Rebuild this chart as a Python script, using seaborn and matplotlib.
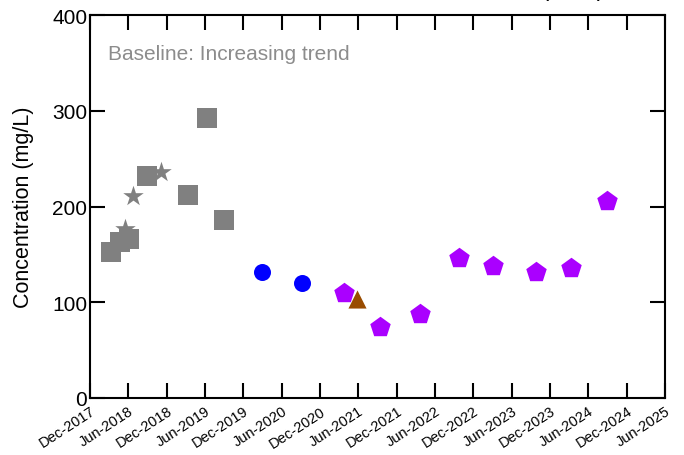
import matplotlib
matplotlib.use("Agg")
import matplotlib.pyplot as plt
import pandas as pd
import seaborn as sns

sns.set_theme(style="white")
plt.rcParams["font.family"] = ["Liberation Sans", "DejaVu Sans"]

# Sampling dates and concentrations, grouped by result category
baseline_sq_dates = ["2018-03-12", "2018-04-21", "2018-06-05", "2018-08-31",
                     "2019-03-15", "2019-06-09", "2019-09-01"]
baseline_sq_vals = [152, 163, 166, 232, 212, 292, 186]

baseline_star_dates = ["2018-05-17", "2018-06-25", "2018-11-03"]
baseline_star_vals = [176, 211, 236]

circle_dates = ["2020-03-01", "2020-09-06"]
circle_vals = [132, 120]

pent_dates = ["2021-03-24", "2021-09-13", "2022-03-22", "2022-09-25",
              "2023-03-06", "2023-09-26", "2024-03-10", "2024-08-28"]
pent_vals = [110, 74, 88, 146, 138, 132, 136, 206]

tri_dates = ["2021-05-25"]
tri_vals = [103]

x_ticks = pd.date_range("2017-12-01", "2025-06-01", freq="6MS")
x_tick_labels = [d.strftime("%b-%Y") for d in x_ticks]
y_ticks = [0, 100, 200, 300, 400]

groups = [
    ("baseline_sq", baseline_sq_dates, baseline_sq_vals),
    ("baseline_star", baseline_star_dates, baseline_star_vals),
    ("circle", circle_dates, circle_vals),
    ("pent", pent_dates, pent_vals),
    ("tri", tri_dates, tri_vals),
]
frames = []
for name, d, v in groups:
    frames.append(pd.DataFrame({"date": pd.to_datetime(d), "value": v, "group": name}))
df = pd.concat(frames, ignore_index=True)

palette = {"baseline_sq": "#808080", "baseline_star": "#808080",
           "circle": "#0000FF", "pent": "#AA00FF", "tri": "#994C00"}
markers = {"baseline_sq": "s", "baseline_star": "*", "circle": "o",
           "pent": "p", "tri": "^"}
sizes = {"baseline_sq": 190, "baseline_star": 240, "circle": 150,
         "pent": 240, "tri": 170}

fig = plt.figure(figsize=(6.84, 4.56), dpi=100)
ax = fig.add_axes([90 / 684, 1 - 399 / 456, 575 / 684, 383 / 456])

for name, _, _ in groups:
    sub = df[df["group"] == name]
    sns.scatterplot(data=sub, x="date", y="value", ax=ax, color=palette[name],
                    marker=markers[name], s=sizes[name], linewidth=0,
                    legend=False, zorder=3)

ax.set_xlim(x_ticks[0], x_ticks[-1])
ax.set_ylim(0, 400)
ax.set_xticks(x_ticks)
ax.set_xticklabels(x_tick_labels, rotation=33, ha="right",
                   rotation_mode="anchor", fontsize=10.5)
ax.set_yticks(y_ticks)
ax.tick_params(axis="y", labelsize=15, pad=2)
ax.tick_params(direction="in", length=11, width=1.5, top=True, right=True,
               bottom=True, left=True, color="black", labelcolor="black")
ax.tick_params(axis="x", pad=4)
ax.set_xlabel("")
ax.set_ylabel("Concentration (mg/L)", fontsize=15.5, labelpad=13, color="black")
for sp in ax.spines.values():
    sp.set_color("black")
    sp.set_linewidth(1.5)

ax.text(0.032, 0.9, "Baseline: Increasing trend", transform=ax.transAxes,
        fontsize=15, color="#8c8c8c", va="center", ha="left")

fig.text(605 / 684, 1.008, "Sulfate (SO4)", fontsize=17, ha="right",
         va="baseline", color="black")

fig.savefig("out.png", dpi=100)
